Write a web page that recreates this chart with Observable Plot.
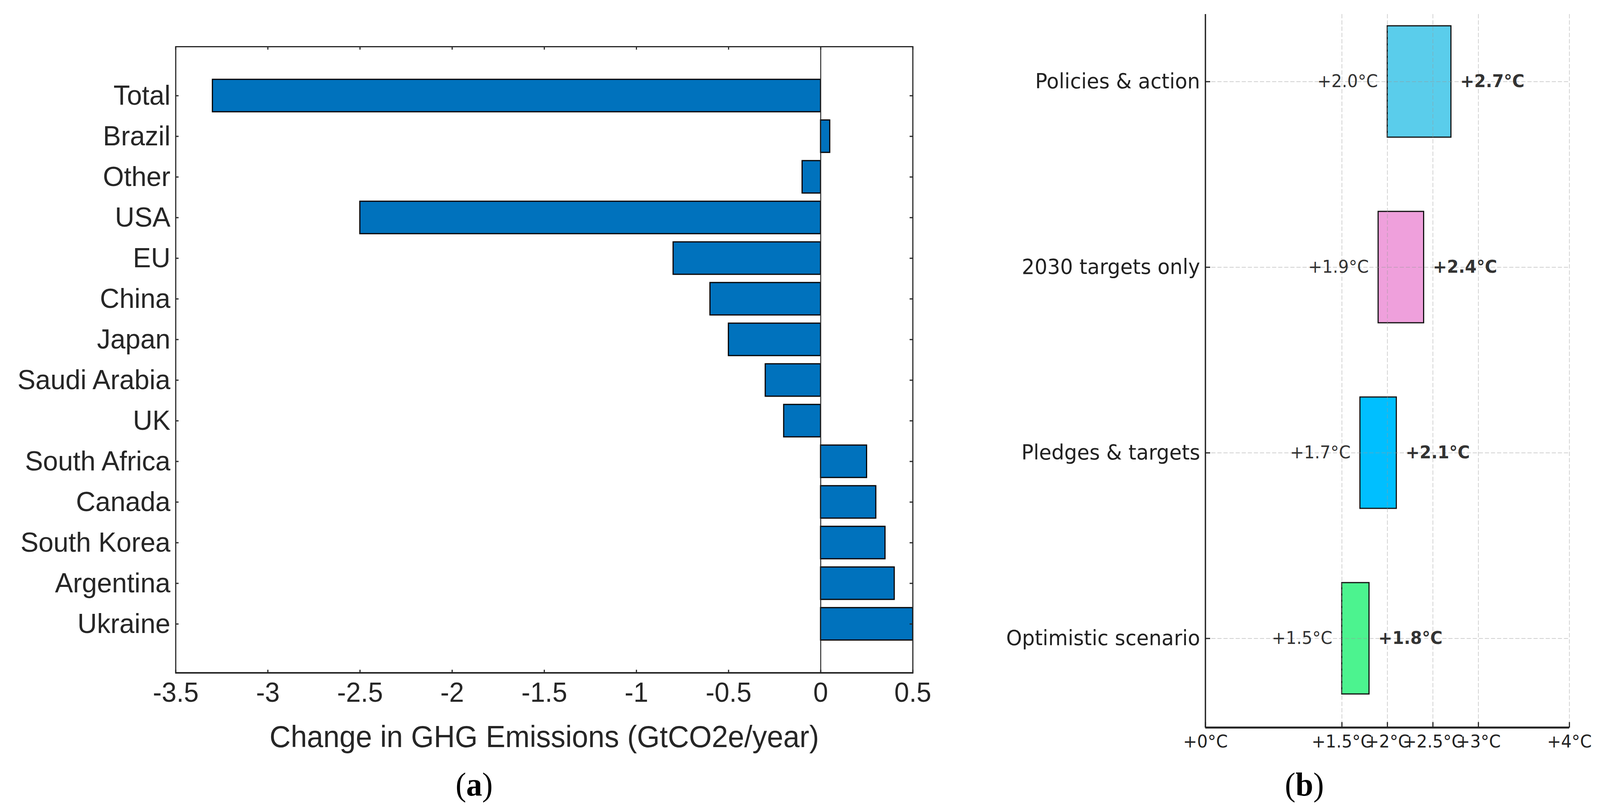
<!DOCTYPE html>
<html>
<head>
<meta charset="utf-8">
<script src="https://cdn.jsdelivr.net/npm/d3@7"></script>
<script src="https://cdn.jsdelivr.net/npm/@observablehq/plot@0.6"></script>
<style>
html, body { margin: 0; padding: 0; background: #fff; overflow: hidden; }
#wrap { position: relative; width: 4211px; height: 2073px; overflow: hidden; background: #fff; transform-origin: 0 0; }
#wrap > div.p { position: absolute; top: 0; }
.cap { position: absolute; font-family: "Liberation Serif", "Times New Roman", serif; font-size: 84px; line-height: 84px; color: #000; white-space: nowrap; transform: translateX(-50%); }
</style>
</head>
<body>
<div id="wrap">
  <div id="pa" class="p" style="left:0px;width:2440px"></div>
  <div id="pb" class="p" style="left:2650px;width:1561px"></div>
  <div class="cap" style="left:1248px;top:1966px">(<b>a</b>)</div>
  <div class="cap" style="left:3433px;top:1966px">(<b>b</b>)</div>
</div>
<script>
// ---------- Panel (a) data ----------
const countries = ["Total", "Brazil", "Other", "USA", "EU", "China", "Japan", "Saudi Arabia", "UK", "South Africa", "Canada", "South Korea", "Argentina", "Ukraine"];
const changes = [-3.3, 0.05, -0.1, -2.5, -0.8, -0.6, -0.5, -0.3, -0.2, 0.25, 0.3, 0.35, 0.4, 0.5];
const xTicksA = [-3.5, -3, -2.5, -2, -1.5, -1, -0.5, 0, 0.5];
const xTitleA = "Change in GHG Emissions (GtCO2e/year)";

// ---------- Panel (b) data ----------
const scenarios = ["Policies & action", "2030 targets only", "Pledges & targets", "Optimistic scenario"];
const lowTemps = [2.0, 1.9, 1.7, 1.5];
const highTemps = [2.7, 2.4, 2.1, 1.8];
const scenarioColors = ["#5acdeb", "#efa0dc", "#00bfff", "#4cf38f"];
const xTicksB = [0, 1.5, 2, 2.5, 3, 4];

// ---------- Panel (a) ----------
const dataA = countries.map((c, i) => ({country: c, value: changes[i]}));
const FA = "'Liberation Sans', Arial, Helvetica, sans-serif";
const inkA = "#262626";
const A = {w: 2440, h: 1960, ml: 462, mr: 38, mt: 119, mb: 238};
const fwA = A.w - A.ml - A.mr;
const fhA = A.h - A.mt - A.mb;

const plotA = Plot.plot({
  width: A.w, height: A.h,
  marginLeft: A.ml, marginRight: A.mr, marginTop: A.mt, marginBottom: A.mb,
  style: {fontFamily: FA, color: inkA, background: "transparent", overflow: "visible"},
  x: {domain: [-3.5, 0.5]},
  y: {type: "band", domain: countries, paddingInner: 0.2, paddingOuter: 0.8},
  marks: [
    Plot.barX(dataA, {x1: 0, x2: "value", y: "country", fill: "#0072bd", stroke: "#000", strokeWidth: 3}),
    Plot.ruleX([0], {stroke: inkA, strokeWidth: 2.5}),
    Plot.ruleX(xTicksA, {stroke: inkA, strokeWidth: 3, insetTop: fhA - 8}),
    Plot.ruleX(xTicksA, {stroke: inkA, strokeWidth: 3, insetBottom: fhA - 8}),
    Plot.ruleY(countries, {stroke: inkA, strokeWidth: 3, insetRight: fwA - 8}),
    Plot.ruleY(countries, {stroke: inkA, strokeWidth: 3, insetLeft: fwA - 8}),
    Plot.frame({stroke: inkA, strokeWidth: 3}),
    Plot.rect([0], {x1: -3.5, x2: 0.5, fill: inkA, insetTop: fhA - 2, insetBottom: -2}),
    Plot.axisX(xTicksA, {tickSize: 0, tickPadding: 24, fontSize: 70, tickFormat: d => String(d), label: null}),
    Plot.axisY({tickSize: 0, tickPadding: 14, fontSize: 71, label: null}),
    Plot.text([xTitleA], {frameAnchor: "bottom", dy: 189, lineAnchor: "bottom", fontSize: 77, fill: inkA})
  ]
});
document.getElementById("pa").appendChild(plotA);

// ---------- Panel (b) ----------
const dataB = scenarios.map((s, i) => ({scenario: s, lo: lowTemps[i], hi: highTemps[i], color: scenarioColors[i]}));
const FB = "'DejaVu Sans', Verdana, sans-serif";
const inkB = "#222";
const B = {w: 1561, h: 1960, ml: 522, mr: 81, mt: 36, mb: 98};
const fwB = B.w - B.ml - B.mr;
const fhB = B.h - B.mt - B.mb;
// band centres at 208, 683, 1158, 1634 px
const stepB = (1634 - 208) / 3;

const plotB = Plot.plot({
  width: B.w, height: B.h,
  marginLeft: B.ml, marginRight: B.mr, marginTop: B.mt, marginBottom: B.mb,
  style: {fontFamily: FB, color: inkB, background: "transparent", overflow: "visible"},
  x: {domain: [0, 4]},
  y: {type: "band", domain: scenarios, paddingInner: 0.4, paddingOuter: 0.2, range: [208 - stepB / 2, 1634 + stepB / 2]},
  color: {type: "identity"},
  marks: [
    Plot.barX(dataB, {x1: "lo", x2: "hi", y: "scenario", fill: "color", stroke: "#111", strokeWidth: 3}),
    Plot.ruleX(xTicksB, {stroke: "#999", strokeOpacity: 0.45, strokeWidth: 2, strokeDasharray: "11,5"}),
    Plot.ruleY(scenarios, {stroke: "#999", strokeOpacity: 0.45, strokeWidth: 2, strokeDasharray: "11,5"}),
    Plot.text(dataB, {x: "lo", y: "scenario", text: d => `+${d.lo.toFixed(1)}°C`, textAnchor: "end", dx: -25, fontSize: 44, fill: "#333"}),
    Plot.text(dataB, {x: "hi", y: "scenario", text: d => `+${d.hi.toFixed(1)}°C`, textAnchor: "start", dx: 24, fontSize: 44, fontWeight: "bold", fill: "#333"}),
    Plot.ruleX([0], {stroke: inkB, strokeWidth: 3.5}),
    Plot.rect([0], {x1: 0, x2: 4, fill: inkB, insetTop: fhB - 2.5, insetBottom: -2.5}),
    Plot.ruleX(xTicksB, {stroke: inkB, strokeWidth: 3, insetTop: fhB - 14}),
    Plot.ruleY(scenarios, {stroke: inkB, strokeWidth: 3, insetRight: fwB - 13}),
    Plot.axisX(xTicksB, {tickSize: 0, tickPadding: 19, fontSize: 44, tickFormat: d => `+${d}°C`, label: null}),
    Plot.axisY({tickSize: 0, tickPadding: 14, fontSize: 53, label: null})
  ]
});
document.getElementById("pb").appendChild(plotB);

// Fit the 4211×2073 layout into the actual viewport, if it is smaller.
(function fit() {
  const wrap = document.getElementById("wrap");
  const vw = window.innerWidth || document.documentElement.clientWidth;
  const vh = window.innerHeight || document.documentElement.clientHeight;
  if (vw > 0 && vh > 0 && (vw < 4211 || vh < 2073)) {
    const sx = Math.min(1, vw / 4211), sy = Math.min(1, vh / 2073);
    wrap.style.transform = `scale(${sx}, ${sy})`;
  }
})();
</script>
</body>
</html>
